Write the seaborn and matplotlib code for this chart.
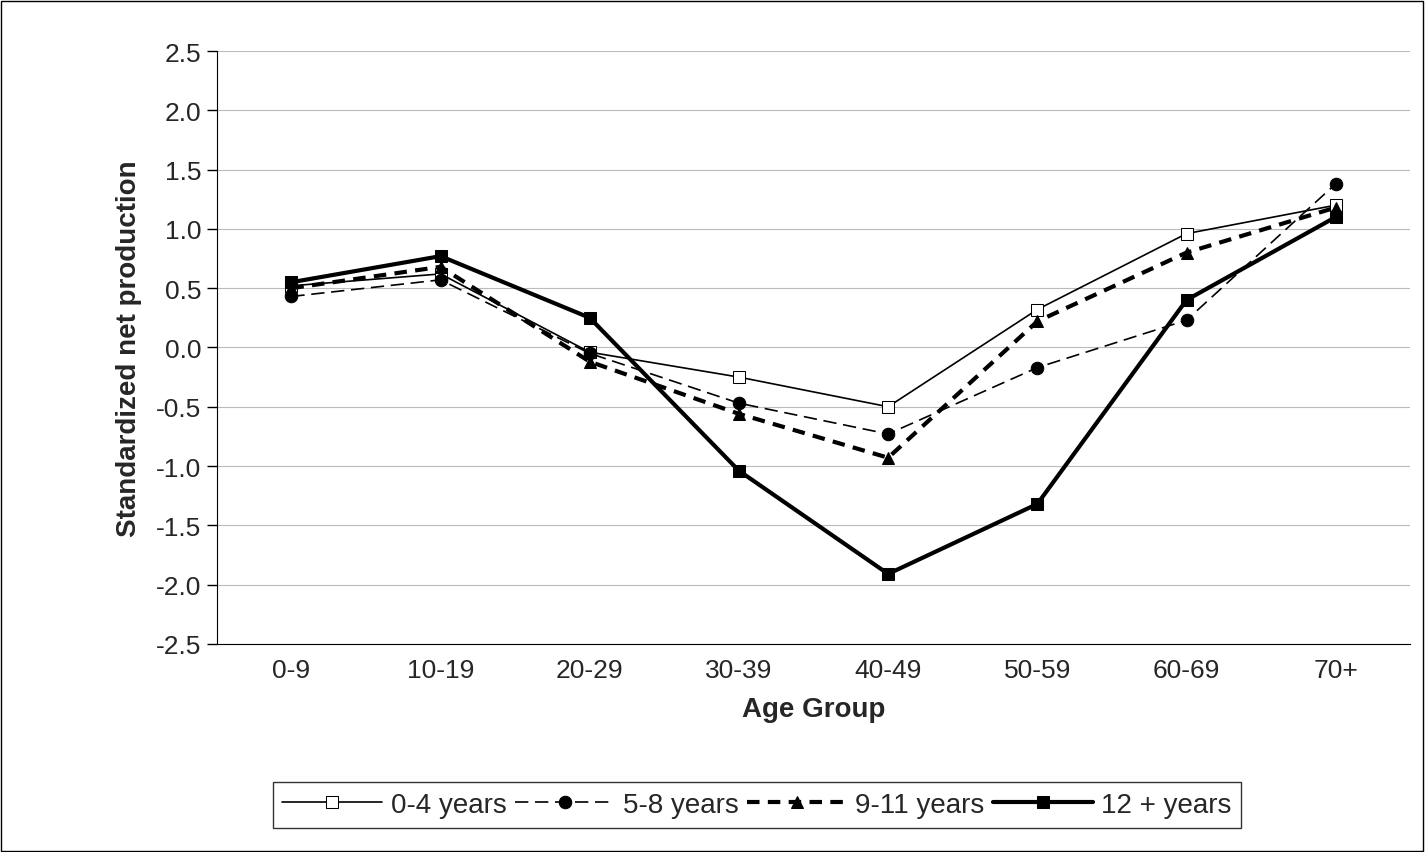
import matplotlib
matplotlib.use("Agg")
import matplotlib.pyplot as plt
import seaborn as sns
import pandas as pd
import numpy as np

categories = ["0-9", "10-19", "20-29", "30-39", "40-49", "50-59", "60-69", "70+"]
s_0_4 = [0.52, 0.62, -0.04, -0.25, -0.50, 0.32, 0.96, 1.20]
s_5_8 = [0.43, 0.57, -0.05, -0.47, -0.73, -0.17, 0.23, 1.38]
s_9_11 = [0.50, 0.68, -0.12, -0.56, -0.93, 0.22, 0.80, 1.18]
s_12 = [0.55, 0.77, 0.25, -1.04, -1.91, -1.32, 0.40, 1.10]
series_names = ["0-4 years", "5-8 years", "9-11 years", "12 + years"]
yticks = [-2.5, -2.0, -1.5, -1.0, -0.5, 0.0, 0.5, 1.0, 1.5, 2.0, 2.5]

sns.set_style("white")
plt.rcParams['font.family'] = ['Liberation Sans', 'DejaVu Sans']

fig = plt.figure(figsize=(14.26, 8.53), dpi=100)
ax = fig.add_axes([0.152, 0.244, 0.837, 0.695])

x = np.arange(len(categories))
styles = [
    dict(ls="-", lw=1.2, marker="s", mfc="white", ms=9),
    dict(ls=(0, (8, 4)), lw=1.2, marker="o", mfc="black", ms=9),
    dict(ls=(0, (3, 2)), lw=3, marker="^", mfc="black", ms=9),
    dict(ls="-", lw=3, marker="s", mfc="black", ms=9),
]
for name, vals, st in zip(series_names, [s_0_4, s_5_8, s_9_11, s_12], styles):
    df = pd.DataFrame({"x": x, "y": vals})
    sns.lineplot(data=df, x="x", y="y", ax=ax, color="black", linestyle=st["ls"],
                 linewidth=st["lw"], marker=st["marker"], markerfacecolor=st["mfc"],
                 markeredgecolor="black", markersize=st["ms"], label=name)

ax.set_xlim(-0.5, 7.5)
ax.set_ylim(-2.5, 2.5)
ax.set_yticks(yticks)
ax.set_yticklabels([f"{v:.1f}" for v in yticks], fontsize=19)
ax.set_xticks(x)
ax.set_xticklabels(categories, fontsize=19)
ax.set_xticks(np.arange(-0.5, 8, 1), minor=True)
ax.tick_params(axis="x", which="major", length=0, pad=10)
ax.tick_params(axis="x", which="minor", length=7, direction="out", width=1, color="black")
ax.tick_params(axis="y", length=7, direction="out", width=1, color="black", left=True, pad=4)
ax.yaxis.grid(True, color="#bbbbbb", lw=0.8)
for s in ["top", "right"]:
    ax.spines[s].set_visible(False)
for s in ["left", "bottom"]:
    ax.spines[s].set_color("black")
ax.set_xlabel("Age Group", fontsize=20, fontweight="bold", labelpad=10)
ax.set_ylabel("Standardized net production", fontsize=20, fontweight="bold", labelpad=10)

ax.legend(loc="center", bbox_to_anchor=(757/1426, 1 - 806/853), bbox_transform=fig.transFigure,
          ncol=4, frameon=True, fancybox=False, edgecolor="black", fontsize=20,
          handlelength=3.6, columnspacing=0.3, handletextpad=0.3, borderpad=0.35)
fig.patches.append(plt.Rectangle((0.001, 0.001), 0.997, 0.997, transform=fig.transFigure,
                                 fill=False, edgecolor="black", lw=1))
fig.savefig("out.png", dpi=100)
